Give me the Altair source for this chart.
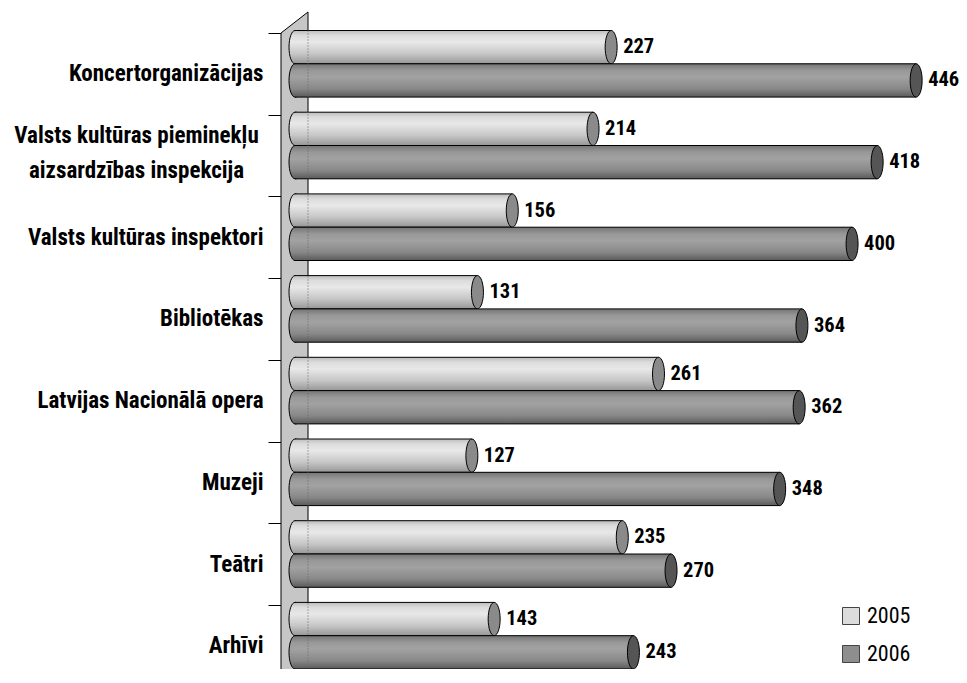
import glob
import json
import altair as alt
import pandas as pd

# ---------------- data ----------------
categories = [
    "Koncertorganizācijas",
    "Valsts kultūras pieminekļu aizsardzības inspekcija",
    "Valsts kultūras inspektori",
    "Bibliotēkas",
    "Latvijas Nacionālā opera",
    "Muzeji",
    "Teātri",
    "Arhīvi",
]
label_lines = [
    ["Koncertorganizācijas"],
    ["Valsts kultūras pieminekļu", "aizsardzības inspekcija"],
    ["Valsts kultūras inspektori"],
    ["Bibliotēkas"],
    ["Latvijas Nacionālā opera"],
    ["Muzeji"],
    ["Teātri"],
    ["Arhīvi"],
]
series = ["2005", "2006"]
values_2005 = [227, 214, 156, 131, 261, 127, 235, 143]
values_2006 = [446, 418, 400, 364, 362, 348, 270, 243]


# ---------------- fonts (pick a narrow face if one is installed) ----------------
def has_font(pattern):
    for root in ("/usr/share/fonts", "/usr/local/share/fonts", "/root/.fonts", "/root/.local/share/fonts"):
        if glob.glob(f"{root}/**/{pattern}", recursive=True):
            return True
    return False


candidates = [
    ("Roboto Condensed", "RobotoCondensed*", (23, 20.5, 22)),
    ("Liberation Sans Narrow", "LiberationSansNarrow*", (23, 20.5, 22)),
    ("DejaVu Sans Condensed", "DejaVuSansCondensed*", (20.5, 19, 19)),
]
FONT, SIZES = "Roboto", (20.5, 19, 19)
for name, pat, sz in candidates:
    if has_font(pat):
        FONT, SIZES = name, sz
        break
CAT_FS, VAL_FS, LEG_FS = SIZES

# ---------------- layout / style ----------------
BAND = 81.7                 # px per category
BAR_H = 33.3 / BAND         # bar thickness in band units
BAR_OFF = -2.5 / BAND       # bars start slightly above the tick
PX_PER_UNIT = 1.3927
ZERO_PX = 295 - 281         # zero offset from plot left (px)
PLOT_W, PLOT_H = 678, 661
Y_TOP = (8 - 33) / BAND
Y_BOT = (8 + PLOT_H - 33) / BAND
X_LO = -ZERO_PX / PX_PER_UNIT
X_HI = (PLOT_W - ZERO_PX) / PX_PER_UNIT

rows = []
for i, cat in enumerate(categories):
    for s, (ser, vals) in enumerate(zip(series, [values_2005, values_2006])):
        y0 = i + BAR_OFF + s * BAR_H
        rows.append(dict(idx=i, category=cat, series=ser, s=s, value=vals[i],
                         zero=0.0, y0=y0, y1=y0 + BAR_H, yc=y0 + BAR_H / 2))
df = pd.DataFrame(rows)

# 3-D wall (decoration) in data units
wall_x_back = (308 - 295) / PX_PER_UNIT
depth_u = 21 / BAND
wall = pd.DataFrame({
    "wx": [X_LO, wall_x_back],
    "wy": [0.0, -depth_u],
    "wy2": [len(categories) - 0.06, len(categories) - 0.06 - depth_u + 0.05],
})
wall_line = pd.DataFrame({"wx": [wall_x_back], "wy": [BAR_OFF],
                          "wy2": [len(categories) - 1 + BAR_OFF + 2 * BAR_H]})

xscale = alt.Scale(domain=[X_LO, X_HI], nice=False, zero=False)
yscale = alt.Scale(domain=[Y_TOP, Y_BOT], nice=False, zero=False, reverse=True)

LINE_H = 35
label_expr = json.dumps(label_lines, ensure_ascii=False) + "[datum.value]"
yaxis = alt.Axis(
    values=list(range(len(categories))),
    labelExpr=label_expr,
    title=None, domain=False, grid=False,
    ticks=True, tickSize=13, tickColor="black", tickWidth=1,
    labelOffset={"condition": {"test": "datum.value == 1", "value": 20.3}, "value": BAND / 2},
    labelAlign={"condition": {"test": "datum.value == 1", "value": "center"}, "value": "right"},
    labelPadding={"condition": {"test": "datum.value == 1", "value": 132}, "value": 5},
    labelBaseline="middle",
    labelFont=FONT, labelFontSize=CAT_FS, labelFontWeight="bold", labelColor="black",
    labelLineHeight=LINE_H, labelLimit=400, labelOverlap=False, labelFlush=False, labelBound=False,
)


def X(f):
    return alt.X(f, type="quantitative", scale=xscale, axis=None, title=None)


def Y(f):
    return alt.Y(f, type="quantitative", scale=yscale, axis=yaxis, title=None)


def grad(stops):
    return alt.LinearGradient(
        gradient="linear", x1=0, y1=0, x2=0, y2=1,
        stops=[alt.GradientStop(offset=o, color=c) for o, c in stops],
    )


g2005 = grad([(0, "#bcbcbc"), (0.15, "#dcdcdc"), (0.35, "#e8e8e8"), (0.7, "#c6c6c6"), (1, "#969696")])
g2006 = grad([(0, "#747474"), (0.2, "#989898"), (0.4, "#a2a2a2"), (0.75, "#888888"), (1, "#5a5a5a")])

a, k = 0.36, 0.5523
ak = round(a * k, 4)
ELLIPSE = (f"M0,-1C{ak},-1 {a},-{k} {a},0C{a},{k} {ak},1 0,1"
           f"C-{ak},1 -{a},{k} -{a},0C-{a},-{k} -{ak},-1 0,-1Z")
LEFT_HALF = f"M0.1,-1L0,-1C-{ak},-1 -{a},-{k} -{a},0C-{a},{k} -{ak},1 0,1L0.1,1"
CAP_SIZE = (BAR_H * BAND) ** 2

base = alt.Chart(df)

wall_layer = alt.Chart(wall).mark_area(orient="vertical", fill="#c6c6c6", stroke="black", strokeWidth=1).encode(
    x=X("wx"), y=Y("wy"), y2="wy2"
)

legend_layer = base.mark_rect().encode(
    x=X("zero"), x2="value", y=Y("y0"), y2="y1",
    color=alt.Color("series:N", scale=alt.Scale(domain=series, range=["#dcdcdc", "#8e8e8e"]),
                    legend=alt.Legend(orient="none", legendX=559, legendY=597, title=None,
                                      symbolType="square", symbolSize=289,
                                      symbolStrokeColor="#444444", symbolStrokeWidth=1,
                                      labelFont=FONT, labelFontSize=LEG_FS, labelColor="black",
                                      rowPadding=16, labelOffset=5, padding=0)),
)

layers = [wall_layer, legend_layer]
caps = {0: "#8a8a8a", 1: "#555555"}
for s, g in [(0, g2005), (1, g2006)]:
    sub = base.transform_filter(f"datum.s == {s}")
    layers.append(sub.mark_rect(fill=g, stroke="black", strokeWidth=1).encode(
        x=X("zero"), x2="value", y=Y("y0"), y2="y1"))
    layers.append(sub.mark_point(shape=LEFT_HALF, size=CAP_SIZE, filled=True, fill=g, stroke="black",
                                 strokeWidth=1, opacity=1).encode(x=X("zero"), y=Y("yc")))
    layers.append(sub.mark_point(shape=ELLIPSE, size=CAP_SIZE, filled=True, fill=caps[s], stroke="black",
                                 strokeWidth=1, opacity=1).encode(x=X("value"), y=Y("yc")))

dotted = alt.Chart(wall_line).mark_rule(strokeDash=[1, 2], color="#666666", strokeWidth=1).encode(
    x=X("wx"), y=Y("wy"), y2="wy2")
layers.append(dotted)

labels = base.mark_text(align="left", baseline="middle", dx=12, font=FONT, fontSize=VAL_FS,
                        fontWeight="bold", color="black").encode(
    x=X("value"), y=Y("yc"), text="value:Q")
layers.append(labels)

chart = alt.layer(*layers).properties(
    width=PLOT_W, height=PLOT_H,
    autosize=alt.AutoSizeParams(type="none"),
    padding={"left": 273, "top": 0, "right": 0, "bottom": 0},
    background="white",
).configure_view(strokeWidth=0)

chart.save("out.html", embed_options={"renderer": "svg", "actions": False})
